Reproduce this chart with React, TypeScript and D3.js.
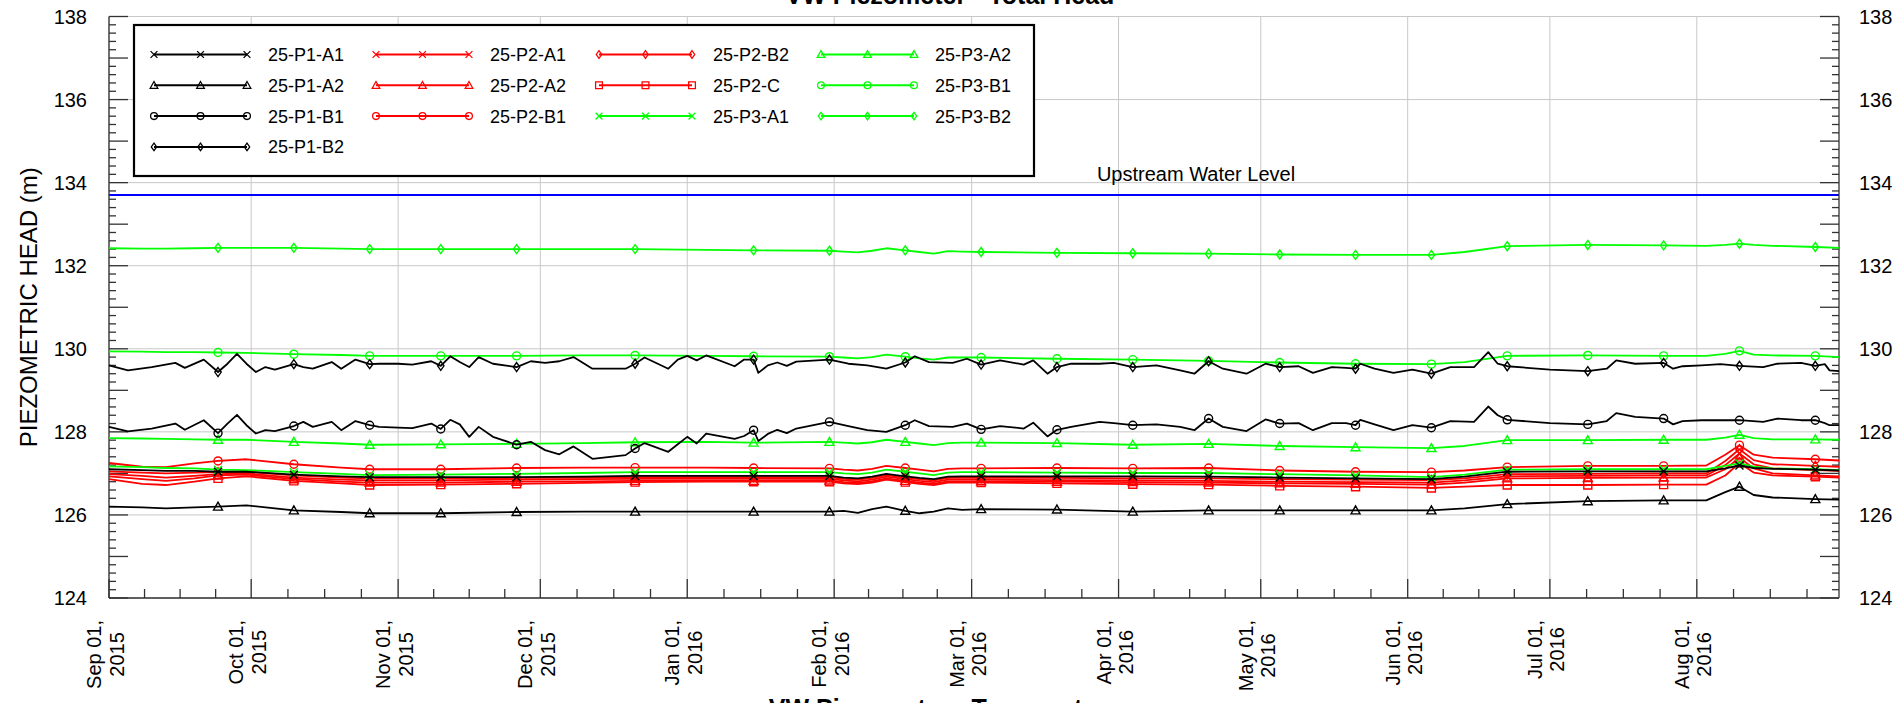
import React, { useEffect, useRef } from 'react';
import * as d3 from 'd3';

// shared sampling dates for the smoother series
const dates = [
  '2015-09-01', '2015-09-08', '2015-09-13', '2015-09-19', '2015-09-24', '2015-09-30',
  '2015-10-10', '2015-10-20', '2015-10-26', '2015-11-10', '2015-11-26', '2015-12-10',
  '2015-12-21', '2016-01-05', '2016-01-15', '2016-01-31', '2016-02-03', '2016-02-06',
  '2016-02-09', '2016-02-12', '2016-02-16', '2016-02-19', '2016-02-22', '2016-02-25',
  '2016-02-28', '2016-03-03', '2016-03-19', '2016-04-04', '2016-04-20', '2016-05-05',
  '2016-05-21', '2016-06-06', '2016-06-13', '2016-06-22', '2016-07-09', '2016-07-25',
  '2016-08-03', '2016-08-07', '2016-08-10', '2016-08-13', '2016-08-17', '2016-08-26',
  '2016-08-31',
];

const p1A1 = [
  127.10, 127.08, 127.06, 127.06, 127.04, 127.04,
  126.97, 126.93, 126.91, 126.91, 126.91, 126.92,
  126.94, 126.94, 126.94, 126.94, 126.90, 126.88,
  126.92, 126.99, 126.93, 126.89, 126.86, 126.92,
  126.93, 126.93, 126.93, 126.93, 126.92, 126.90,
  126.88, 126.86, 126.92, 127.04, 127.05, 127.05,
  127.05, 127.12, 127.19, 127.13, 127.11, 127.09,
  127.07,
];
const p1A2 = [
  126.20, 126.18, 126.16, 126.18, 126.20, 126.23,
  126.11, 126.07, 126.04, 126.04, 126.07, 126.08,
  126.08, 126.08, 126.08, 126.08, 126.10, 126.05,
  126.14, 126.20, 126.10, 126.04, 126.08, 126.16,
  126.12, 126.14, 126.13, 126.08, 126.11, 126.11,
  126.11, 126.11, 126.16, 126.26, 126.33, 126.35,
  126.35, 126.55, 126.68, 126.48, 126.42, 126.38,
  126.37,
];
const p2A1 = [
  126.98, 126.94, 126.90, 126.94, 126.98, 127.00,
  126.90, 126.85, 126.83, 126.83, 126.85, 126.86,
  126.87, 126.87, 126.87, 126.87, 126.83, 126.81,
  126.85, 126.92, 126.86, 126.82, 126.79, 126.85,
  126.85, 126.85, 126.84, 126.83, 126.82, 126.80,
  126.79, 126.78, 126.83, 126.93, 126.94, 126.95,
  126.95, 127.20, 127.48, 127.22, 127.12, 127.08,
  127.06,
];
const p2A2 = [
  126.93, 126.86, 126.82, 126.88, 126.95, 126.97,
  126.86, 126.80, 126.78, 126.78, 126.80, 126.81,
  126.82, 126.82, 126.82, 126.83, 126.79, 126.77,
  126.81, 126.88, 126.82, 126.78, 126.75, 126.81,
  126.81, 126.81, 126.80, 126.79, 126.78, 126.76,
  126.75, 126.73, 126.78, 126.88, 126.89, 126.90,
  126.90, 127.10, 127.38, 127.12, 127.00, 126.95,
  126.93,
];
const p2B1 = [
  127.25, 127.16, 127.15, 127.24, 127.30, 127.34,
  127.22, 127.14, 127.10, 127.10, 127.13, 127.14,
  127.14, 127.14, 127.13, 127.12, 127.09, 127.07,
  127.11, 127.18, 127.13, 127.09, 127.05, 127.11,
  127.12, 127.12, 127.13, 127.12, 127.13, 127.07,
  127.04, 127.03, 127.07, 127.15, 127.18, 127.18,
  127.19, 127.45, 127.68, 127.45, 127.38, 127.34,
  127.31,
];
const p2B2 = [
  127.05, 127.02, 127.00, 127.02, 127.03, 127.04,
  126.95, 126.90, 126.88, 126.88, 126.89, 126.90,
  126.91, 126.91, 126.91, 126.91, 126.87, 126.85,
  126.89, 126.96, 126.90, 126.86, 126.83, 126.89,
  126.89, 126.89, 126.89, 126.88, 126.88, 126.86,
  126.85, 126.84, 126.88, 126.98, 126.99, 127.00,
  127.00, 127.30, 127.58, 127.32, 127.22, 127.18,
  127.16,
];
const p2C = [
  126.86, 126.75, 126.72, 126.80, 126.88, 126.93,
  126.82, 126.76, 126.72, 126.73, 126.75, 126.77,
  126.79, 126.80, 126.80, 126.80, 126.76, 126.74,
  126.78, 126.85, 126.79, 126.75, 126.72, 126.78,
  126.78, 126.78, 126.76, 126.74, 126.73, 126.70,
  126.68, 126.65, 126.68, 126.72, 126.72, 126.73,
  126.73, 126.95, 127.25, 127.02, 126.95, 126.92,
  126.90,
];
const p3A1 = [
  127.17, 127.15, 127.13, 127.12, 127.09, 127.08,
  127.03, 126.99, 126.96, 126.97, 126.99, 127.01,
  127.03, 127.03, 127.03, 127.03, 127.00, 126.98,
  127.02, 127.09, 127.04, 127.00, 126.96, 127.02,
  127.03, 127.03, 127.02, 127.01, 127.01, 126.98,
  126.95, 126.91, 126.97, 127.09, 127.10, 127.10,
  127.10, 127.18, 127.24, 127.16, 127.12, 127.10,
  127.08,
];
const p3A2 = [
  127.85, 127.84, 127.83, 127.82, 127.81, 127.81,
  127.76, 127.72, 127.69, 127.70, 127.71, 127.73,
  127.75, 127.76, 127.74, 127.76, 127.74, 127.72,
  127.75, 127.81, 127.76, 127.72, 127.68, 127.73,
  127.74, 127.74, 127.73, 127.69, 127.71, 127.66,
  127.63, 127.61, 127.66, 127.80, 127.80, 127.81,
  127.81, 127.86, 127.93, 127.85, 127.82, 127.82,
  127.81,
];
const p3B1 = [
  129.94, 129.93, 129.92, 129.92, 129.91, 129.90,
  129.87, 129.85, 129.83, 129.83, 129.83, 129.84,
  129.84, 129.83, 129.82, 129.81, 129.79, 129.77,
  129.80, 129.86, 129.81, 129.77, 129.74, 129.79,
  129.79, 129.79, 129.76, 129.74, 129.71, 129.67,
  129.64, 129.63, 129.68, 129.83, 129.84, 129.83,
  129.83, 129.88, 129.95, 129.86, 129.84, 129.83,
  129.80,
];
const p3B2 = [
  132.42, 132.41, 132.41, 132.42, 132.43, 132.43,
  132.43, 132.41, 132.40, 132.40, 132.40, 132.40,
  132.40, 132.38, 132.37, 132.36, 132.34, 132.32,
  132.36, 132.42, 132.37, 132.33, 132.29, 132.35,
  132.34, 132.33, 132.31, 132.30, 132.29, 132.27,
  132.26, 132.26, 132.33, 132.47, 132.50, 132.49,
  132.48, 132.50, 132.53, 132.50, 132.48, 132.45,
  132.43,
];

// denser sampling for the two noisy P1-B gauges
const denseDates = [
  '2015-09-01', '2015-09-05', '2015-09-10', '2015-09-15', '2015-09-17', '2015-09-21', '2015-09-24', '2015-09-26', '2015-09-28', '2015-09-30',
  '2015-10-02', '2015-10-04', '2015-10-06', '2015-10-10', '2015-10-12', '2015-10-14', '2015-10-18', '2015-10-20', '2015-10-23', '2015-10-26',
  '2015-10-28', '2015-11-01', '2015-11-04', '2015-11-08', '2015-11-10', '2015-11-12', '2015-11-14', '2015-11-16', '2015-11-18', '2015-11-21',
  '2015-11-26', '2015-11-29', '2015-12-02', '2015-12-05', '2015-12-08', '2015-12-12', '2015-12-19', '2015-12-21', '2015-12-23', '2015-12-28',
  '2015-12-30', '2016-01-01', '2016-01-03', '2016-01-05', '2016-01-11', '2016-01-13', '2016-01-15', '2016-01-16', '2016-01-18', '2016-01-20',
  '2016-01-22', '2016-01-24', '2016-01-31', '2016-02-04', '2016-02-08', '2016-02-12', '2016-02-16', '2016-02-18', '2016-02-21', '2016-02-26',
  '2016-02-29', '2016-03-03', '2016-03-07', '2016-03-12', '2016-03-14', '2016-03-17', '2016-03-19', '2016-03-22', '2016-03-28', '2016-03-31',
  '2016-04-04', '2016-04-09', '2016-04-14', '2016-04-17', '2016-04-20', '2016-04-23', '2016-04-28', '2016-05-02', '2016-05-05', '2016-05-09',
  '2016-05-12', '2016-05-16', '2016-05-19', '2016-05-21', '2016-05-22', '2016-05-25', '2016-05-29', '2016-06-02', '2016-06-06', '2016-06-10',
  '2016-06-15', '2016-06-18', '2016-06-20', '2016-06-22', '2016-07-01', '2016-07-09', '2016-07-13', '2016-07-15', '2016-07-19', '2016-07-25',
  '2016-07-27', '2016-07-29', '2016-08-02', '2016-08-06', '2016-08-10', '2016-08-15', '2016-08-18', '2016-08-23', '2016-08-26', '2016-08-28',
  '2016-08-29', '2016-08-31',
];
const p1B1 = [
  128.12, 128.01, 128.08, 128.20, 128.05, 128.28, 127.97, 128.20, 128.41, 128.16,
  127.96, 128.04, 128.02, 128.14, 128.24, 128.12, 128.24, 128.04, 128.26, 128.16,
  128.12, 128.10, 128.09, 128.20, 128.07, 128.29, 128.18, 127.88, 128.12, 127.88,
  127.69, 127.76, 127.56, 127.46, 127.65, 127.35, 127.44, 127.60, 127.73, 127.52,
  127.70, 127.88, 127.72, 127.96, 127.83, 127.90, 128.04, 127.78, 127.95, 128.05,
  127.97, 128.08, 128.24, 128.14, 128.04, 128.00, 128.16, 128.28, 128.14, 128.12,
  128.20, 128.06, 128.14, 128.08, 128.22, 127.89, 128.05, 128.12, 128.24, 128.21,
  128.16, 128.18, 128.12, 128.04, 128.32, 128.12, 128.02, 128.30, 128.20, 128.21,
  128.04, 128.21, 128.21, 128.16, 128.29, 128.18, 128.04, 128.16, 128.10, 128.26,
  128.24, 128.61, 128.40, 128.29, 128.21, 128.18, 128.26, 128.45, 128.36, 128.32,
  128.18, 128.26, 128.28, 128.28, 128.28, 128.24, 128.32, 128.28, 128.28, 128.21,
  128.16, 128.16,
];
const p1B2 = [
  129.60, 129.48, 129.56, 129.66, 129.54, 129.74, 129.44, 129.64, 129.88, 129.64,
  129.44, 129.56, 129.50, 129.63, 129.56, 129.52, 129.68, 129.52, 129.74, 129.63,
  129.64, 129.64, 129.62, 129.70, 129.59, 129.82, 129.68, 129.56, 129.80, 129.64,
  129.56, 129.70, 129.66, 129.70, 129.80, 129.52, 129.52, 129.64, 129.79, 129.52,
  129.74, 129.83, 129.72, 129.84, 129.58, 129.74, 129.74, 129.42, 129.60, 129.67,
  129.59, 129.69, 129.74, 129.64, 129.60, 129.52, 129.67, 129.82, 129.68, 129.66,
  129.76, 129.62, 129.72, 129.62, 129.72, 129.40, 129.56, 129.64, 129.64, 129.66,
  129.56, 129.60, 129.48, 129.40, 129.70, 129.52, 129.40, 129.64, 129.56, 129.58,
  129.42, 129.56, 129.54, 129.52, 129.64, 129.52, 129.42, 129.50, 129.40, 129.56,
  129.56, 129.92, 129.64, 129.58, 129.50, 129.46, 129.52, 129.72, 129.64, 129.66,
  129.52, 129.58, 129.60, 129.63, 129.59, 129.56, 129.64, 129.66, 129.59, 129.63,
  129.48, 129.46,
];

// dates where the symbols are drawn
const markerDates = [
  '2015-09-24', '2015-10-10', '2015-10-26', '2015-11-10', '2015-11-26', '2015-12-21',
  '2016-01-15', '2016-01-31', '2016-02-16', '2016-03-03', '2016-03-19', '2016-04-04',
  '2016-04-20', '2016-05-05', '2016-05-21', '2016-06-06', '2016-06-22', '2016-07-09',
  '2016-07-25', '2016-08-10', '2016-08-26',
];

const upstreamLevel = 133.7;
const yTicks = [124, 126, 128, 130, 132, 134, 136, 138];
const xDomain = ['2015-09-01', '2016-08-31'];

const BLACK = '#000000';
const RED = '#ff0000';
const GREEN = '#00ff00';

const series = [
  { name: '25-P1-A1', color: BLACK, marker: 'x', d: dates, v: p1A1 },
  { name: '25-P1-A2', color: BLACK, marker: 'triangle', d: dates, v: p1A2 },
  { name: '25-P1-B1', color: BLACK, marker: 'circle', d: denseDates, v: p1B1 },
  { name: '25-P1-B2', color: BLACK, marker: 'diamond', d: denseDates, v: p1B2 },
  { name: '25-P2-A1', color: RED, marker: 'x', d: dates, v: p2A1 },
  { name: '25-P2-A2', color: RED, marker: 'triangle', d: dates, v: p2A2 },
  { name: '25-P2-B1', color: RED, marker: 'circle', d: dates, v: p2B1 },
  { name: '25-P2-B2', color: RED, marker: 'diamond', d: dates, v: p2B2 },
  { name: '25-P2-C', color: RED, marker: 'square', d: dates, v: p2C },
  { name: '25-P3-A1', color: GREEN, marker: 'x', d: dates, v: p3A1 },
  { name: '25-P3-A2', color: GREEN, marker: 'triangle', d: dates, v: p3A2 },
  { name: '25-P3-B1', color: GREEN, marker: 'circle', d: dates, v: p3B1 },
  { name: '25-P3-B2', color: GREEN, marker: 'diamond', d: dates, v: p3B2 },
];

const FONT = '"Liberation Sans", Arial, Helvetica, sans-serif';

function markerPath(type: string) {
  switch (type) {
    case 'x': return 'M-4,-4L4,4M-4,4L4,-4';
    case 'triangle': return 'M0,-4.5L4.5,3.5L-4.5,3.5Z';
    case 'square': return 'M-4,-4H4V4H-4Z';
    case 'diamond': return 'M0,-4.5L3.2,0L0,4.5L-3.2,0Z';
    default: return 'M4,0A4,4 0 1,1 -4,0A4,4 0 1,1 4,0Z';
  }
}

export default function App() {
  const svgRef = useRef<SVGSVGElement>(null);

  useEffect(() => {
    if (!svgRef.current) return;
    const svg = d3.select(svgRef.current);
    svg.selectAll('*').remove();

    const parse = d3.timeParse('%Y-%m-%d');
    const left = 109, right = 1839, top = 16.5, bottom = 598;

    const x = d3.scaleTime()
      .domain(xDomain.map(s => parse(s) as Date))
      .range([left, right]);
    const y = d3.scaleLinear().domain([124, 138]).range([bottom, top]);

    // grid
    const months = x.ticks(d3.timeMonth.every(1) as any);
    const grid = svg.append('g').attr('stroke', '#c8c8c8').attr('stroke-width', 1);
    months.forEach(m => {
      grid.append('line')
        .attr('x1', x(m)).attr('x2', x(m))
        .attr('y1', top).attr('y2', bottom);
    });
    yTicks.forEach(t => {
      grid.append('line')
        .attr('x1', left).attr('x2', right)
        .attr('y1', y(t)).attr('y2', y(t));
    });

    // upstream water level
    svg.append('line')
      .attr('x1', left).attr('x2', right)
      .attr('y1', y(upstreamLevel)).attr('y2', y(upstreamLevel))
      .attr('stroke', '#0000ff').attr('stroke-width', 2);
    svg.append('text')
      .attr('x', 1196).attr('y', y(upstreamLevel) - 14)
      .attr('text-anchor', 'middle')
      .attr('font-family', FONT).attr('font-size', 20)
      .text('Upstream Water Level');

    // axes frame
    const ax = svg.append('g').attr('stroke', '#333').attr('stroke-width', 1.3);
    ax.append('line').attr('x1', left).attr('x2', left).attr('y1', top).attr('y2', bottom);
    ax.append('line').attr('x1', right).attr('x2', right).attr('y1', top).attr('y2', bottom);
    ax.append('line').attr('x1', left).attr('x2', right).attr('y1', bottom).attr('y2', bottom);

    // y ticks (0.2 minor, 1.0 major) both sides
    d3.range(0, 71).forEach(i => {
      const v = 124 + i * 0.2;
      const major = i % 5 === 0;
      const len = major ? 19 : 7;
      ax.append('line').attr('x1', left).attr('x2', left + len).attr('y1', y(v)).attr('y2', y(v));
      ax.append('line').attr('x1', right).attr('x2', right - len).attr('y1', y(v)).attr('y2', y(v));
    });

    // x ticks: months + quarter months
    const allMonths = d3.timeMonth.range(x.domain()[0], d3.timeMonth.offset(x.domain()[0], 12));
    allMonths.forEach(m => {
      const next = d3.timeMonth.offset(m, 1);
      ax.append('line').attr('x1', x(m)).attr('x2', x(m)).attr('y1', bottom).attr('y2', bottom - 19);
      [1, 2, 3].forEach(k => {
        const t = new Date(m.getTime() + (k * (next.getTime() - m.getTime())) / 4);
        if (x(t) < right) {
          ax.append('line').attr('x1', x(t)).attr('x2', x(t)).attr('y1', bottom).attr('y2', bottom - 9);
        }
      });
    });

    // y tick labels
    yTicks.forEach(t => {
      svg.append('text')
        .attr('x', left - 22).attr('y', y(t)).attr('dy', '0.36em')
        .attr('text-anchor', 'end')
        .attr('font-family', FONT).attr('font-size', 20)
        .text(t);
      svg.append('text')
        .attr('x', right + 20).attr('y', y(t)).attr('dy', '0.36em')
        .attr('text-anchor', 'start')
        .attr('font-family', FONT).attr('font-size', 20)
        .text(t);
    });

    // x tick labels (rotated, two lines)
    const fmt = d3.timeFormat('%b %d,');
    const fmtY = d3.timeFormat('%Y');
    months.forEach(m => {
      const xm = x(m);
      const t1 = svg.append('text')
        .attr('transform', `translate(${xm - 8},620) rotate(-90)`)
        .attr('text-anchor', 'end')
        .attr('font-family', FONT).attr('font-size', 20)
        .text(fmt(m));
      const w = (t1.node() as SVGTextElement).getComputedTextLength();
      svg.append('text')
        .attr('transform', `translate(${xm + 14.5},${620 + w / 2}) rotate(-90)`)
        .attr('text-anchor', 'middle')
        .attr('font-family', FONT).attr('font-size', 20)
        .text(fmtY(m));
    });

    // axis titles
    svg.append('text')
      .attr('transform', `translate(37,${(top + bottom) / 2}) rotate(-90)`)
      .attr('text-anchor', 'middle')
      .attr('font-family', FONT).attr('font-size', 24)
      .text('PIEZOMETRIC HEAD (m)');
    svg.append('text')
      .attr('x', 950).attr('y', 4)
      .attr('text-anchor', 'middle')
      .attr('font-family', FONT).attr('font-size', 25).attr('font-weight', 'bold')
      .text('VW Piezometer - Total Head');
    svg.append('text')
      .attr('x', 945).attr('y', 717)
      .attr('text-anchor', 'middle')
      .attr('font-family', FONT).attr('font-size', 25).attr('font-weight', 'bold')
      .text('VW Piezometer - Temperature');

    // series
    const markerSet = new Set(markerDates);
    const line = d3.line<[Date, number]>()
      .x(d => x(d[0]))
      .y(d => y(d[1]));
    const drawOrder = [4, 5, 6, 7, 8, 9, 10, 11, 12, 0, 1, 2, 3];
    drawOrder.forEach(si => {
      const s = series[si];
      const pts: [Date, number][] = s.d.map((ds, i) => [parse(ds) as Date, s.v[i]]);
      const g = svg.append('g');
      g.append('path')
        .attr('d', line(pts))
        .attr('fill', 'none')
        .attr('stroke', s.color)
        .attr('stroke-width', 1.8)
        .attr('stroke-linejoin', 'round');
      s.d.forEach((ds, i) => {
        if (!markerSet.has(ds)) return;
        g.append('path')
          .attr('d', markerPath(s.marker))
          .attr('transform', `translate(${x(parse(ds) as Date)},${y(s.v[i])})`)
          .attr('fill', 'none')
          .attr('stroke', s.color)
          .attr('stroke-width', 1.4);
      });
    });

    // legend
    const lg = svg.append('g');
    lg.append('rect')
      .attr('x', 134).attr('y', 25).attr('width', 900).attr('height', 151)
      .attr('fill', '#fff').attr('stroke', '#000').attr('stroke-width', 2.2);
    const cols = [[0, 1, 2, 3], [4, 5, 6], [7, 8, 9], [10, 11, 12]];
    const colX = [154, 376, 599, 821];
    cols.forEach((col, ci) => {
      col.forEach((si, ri) => {
        const s = series[si];
        const cy = 54.5 + ri * 30.8;
        const x0 = colX[ci];
        lg.append('line')
          .attr('x1', x0).attr('x2', x0 + 93).attr('y1', cy).attr('y2', cy)
          .attr('stroke', s.color).attr('stroke-width', 2);
        [0, 46.5, 93].forEach(dx => {
          lg.append('path')
            .attr('d', markerPath(s.marker))
            .attr('transform', `translate(${x0 + dx},${cy}) scale(0.85)`)
            .attr('fill', 'none')
            .attr('stroke', s.color)
            .attr('stroke-width', 1.5);
        });
        lg.append('text')
          .attr('x', x0 + 114).attr('y', cy).attr('dy', '0.36em')
          .attr('font-family', FONT).attr('font-size', 18)
          .text(s.name);
      });
    });
  }, []);

  return (
    <svg
      ref={svgRef}
      width={1903}
      height={703}
      style={{ position: 'absolute', left: 0, top: 0, background: '#fff' }}
    />
  );
}
